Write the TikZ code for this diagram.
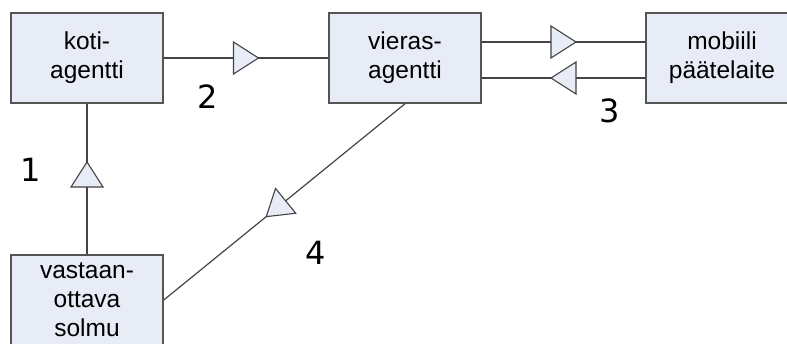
\documentclass[tikz,border=0pt]{standalone}
\usepackage{fontspec}
\setmainfont{Liberation Sans}
\newfontfamily\numfont{DejaVu Sans}
\usetikzlibrary{decorations.markings}
\definecolor{boxfill}{HTML}{E8ECF6}
\definecolor{boxline}{HTML}{555555}
\definecolor{conline}{HTML}{444444}
\tikzset{
  agentbox/.style={draw=boxline, line width=1.5pt, fill=boxfill, minimum width=152pt, minimum height=90pt, inner sep=0pt, align=center, font=\fontsize{24.5}{29}\selectfont},
  numlabel/.style={font=\numfont\fontsize{32}{36}\selectfont, inner sep=0pt},
  conn/.style={draw=conline, line width=1.2pt},
  midtri/.style={postaction={decorate, decoration={markings, mark=at position #1 with {\draw[draw=conline, line width=1.1pt, fill=boxfill, line join=miter] (-12.5pt,-16pt) -- (12.5pt,0pt) -- (-12.5pt,16pt) -- cycle;}}}}
}
\begin{document}
\begin{tikzpicture}[x=1pt, y=-1pt]
\clip (0,0) rectangle (787,343);
\fill[white] (0,0) rectangle (787,343);
\node[agentbox] (koti) at (87,58) {koti-\\agentti};
\node[agentbox] (vieras) at (405,58) {vieras-\\agentti};
\node[agentbox] (mobiili) at (722,58) {mobiili\\päätelaite};
\node[agentbox] (vastaan) at (87,300) {vastaan-\\ottava\\solmu};
\draw[conn, midtri=0.5] (koti.east) -- (vieras.west);
\draw[conn, midtri=0.5] ([yshift=16pt]vieras.east) -- ([yshift=16pt]mobiili.west);
\draw[conn, midtri=0.5] ([yshift=-20pt]mobiili.west) -- ([yshift=-20pt]vieras.east);
\draw[conn, midtri=0.53] (vastaan.north) -- (koti.south);
\draw[conn, midtri=0.535] (vieras.south) -- (vastaan.east);
\node[numlabel] (n1) at (31,170) {1};
\node[numlabel] (n2) at (208,97) {2};
\node[numlabel] (n3) at (610,111) {3};
\node[numlabel] (n4) at (316,253) {4};
\end{tikzpicture}
\end{document}
